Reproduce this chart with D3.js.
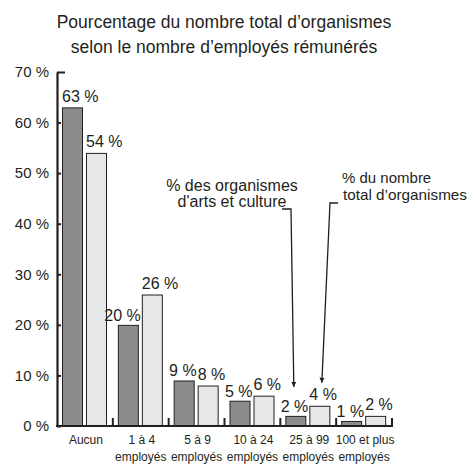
<!DOCTYPE html>
<html><head><meta charset="utf-8">
<script src="https://cdn.jsdelivr.net/npm/d3@7"></script>
<style>
body{margin:0;background:#fff;}
text{font-family:"Liberation Sans",Arial,sans-serif;fill:#231f20;}
</style></head>
<body><svg id="c" width="471" height="465"></svg>
<script>
const categories = ["Aucun","1 à 4","5 à 9","10 à 24","25 à 99","100 et plus"];
const subLabels = ["","employés","employés","employés","employés","employés"];
const seriesNames = ["% des organismes d'arts et culture","% du nombre total d'organismes"];
const artsValues = [63,20,9,5,2,1];
const totalValues = [54,26,8,6,4,2];
const yTicks = [0,10,20,30,40,50,60,70];
const titleLines = ["Pourcentage du nombre total d’organismes","selon le nombre d’employés rémunérés"];

const svg = d3.select("#c");
const x = d3.scaleBand().domain(categories).range([57,392]).padding(0);
const xs = d3.scaleBand().domain([0,1]).range([5,50]).paddingInner(0.125).paddingOuter(0);
const y = d3.scaleLinear().domain([0,70]).range([426,72]);
const fills = ["#8b8c8e","#e6e7e8"];

// title
svg.selectAll("text.title").data(titleLines).join("text")
  .attr("x",224).attr("y",(d,i)=>28+i*25).attr("text-anchor","middle")
  .style("font-size","17.5px").text(d=>d);

// bars
const rows = categories.map((c,i)=>({c, vals:[artsValues[i],totalValues[i]]}));
const g = svg.append("g");
const grp = g.selectAll("g.grp").data(rows).join("g").attr("transform",d=>`translate(${x(d.c)},0)`);
grp.selectAll("rect").data(d=>d.vals.map((v,s)=>({v,s}))).join("rect")
  .attr("x",d=>xs(d.s)+0.5).attr("width",xs.bandwidth()-1)
  .attr("y",d=>y(d.v)+0.5).attr("height",d=>y(0)-y(d.v))
  .attr("fill",d=>fills[d.s]).attr("stroke","#231f20").attr("stroke-width",1);

// value labels
grp.each(function(d){
  const gg = d3.select(this);
  const [a,b] = d.vals;
  gg.append("text").attr("x",xs(1)).attr("y",y(b)-6).style("font-size","16px").text(b+" %");
  if (a - b > 3) {
    gg.append("text").attr("x",xs(0)).attr("y",y(a)-5).style("font-size","16px").text(a+" %");
  } else {
    gg.append("text").attr("x",xs(1)-1).attr("y",y(a)-4).attr("text-anchor","end").style("font-size","16px").text(a+" %");
  }
});

// y axis
const yAxis = d3.axisLeft(y).tickValues(yTicks).tickFormat(d=>d+" %").tickSize(-4).tickSizeOuter(0).tickPadding(8);
const ya = svg.append("g").attr("transform","translate(57,0)").call(yAxis);
ya.select(".domain").attr("stroke","#231f20").attr("stroke-width",2.2);
ya.selectAll(".tick line").attr("stroke","#231f20").attr("stroke-width",2);
ya.selectAll(".tick").filter(d=>d===70).select("line").attr("x2",8);
ya.selectAll(".tick text").style("font-size","15px").attr("fill","#231f20").attr("font-family",null);

// x axis line and separators
svg.append("line").attr("x1",56).attr("x2",393).attr("y1",y(0)).attr("y2",y(0)).attr("stroke","#231f20").attr("stroke-width",2.2);
const sepX = categories.slice(1).map(c=>x(c)).concat([x.range()[1]]);
svg.selectAll("line.sep").data(sepX).join("line")
  .attr("x1",d=>d).attr("x2",d=>d)
  .attr("y1",y(0)).attr("y2",y(0)-8).attr("stroke","#231f20").attr("stroke-width",2);

// category labels
svg.selectAll("text.cat").data(categories).join("text")
  .attr("x",d=>x(d)+x.bandwidth()/2+1).attr("y",444).attr("text-anchor","middle")
  .style("font-size","12px").text(d=>d);
svg.selectAll("text.sub").data(subLabels).join("text")
  .attr("x",(d,i)=>x(categories[i])+x.bandwidth()/2).attr("y",461).attr("text-anchor","middle")
  .style("font-size","12px").text(d=>d);

// annotations
const defs = svg.append("defs");
defs.append("marker").attr("id","ah").attr("viewBox","0 0 10 10").attr("refX",10).attr("refY",5)
  .attr("markerWidth",4).attr("markerHeight",4).attr("markerUnits","strokeWidth").attr("orient","auto")
  .append("path").attr("d","M0,0 L10,5 L0,10 Z").attr("fill","#231f20");

const c4 = categories[4];
const tip1 = [x(c4)+xs(0)+xs.bandwidth()/2-2, y(artsValues[4])-29];
const tip2 = [x(c4)+xs(1)+xs.bandwidth()/2+2, y(totalValues[4])-23];
svg.append("path").attr("d",`M282,209 H291 L${tip1[0]},${tip1[1]}`).attr("fill","none")
  .attr("stroke","#231f20").attr("stroke-width",1.3).attr("marker-end","url(#ah)");
svg.append("path").attr("d",`M338,203 H330 L${tip2[0]},${tip2[1]}`).attr("fill","none")
  .attr("stroke","#231f20").attr("stroke-width",1.3).attr("marker-end","url(#ah)");

const ann1 = ["% des organismes","d'arts et culture"];
const ann2 = ["% du nombre","total d’organismes"];
svg.selectAll("text.a1").data(ann1).join("text").attr("x",232).attr("y",(d,i)=>191+i*16)
  .attr("text-anchor","middle").style("font-size","16px").text(d=>d);
svg.selectAll("text.a2").data(ann2).join("text").attr("x",(d,i)=>342+i*1).attr("y",(d,i)=>183+i*17)
  .style("font-size","15px").attr("textLength",(d,i)=>i===1?124:null).attr("lengthAdjust","spacingAndGlyphs").text(d=>d);
</script></body></html>
